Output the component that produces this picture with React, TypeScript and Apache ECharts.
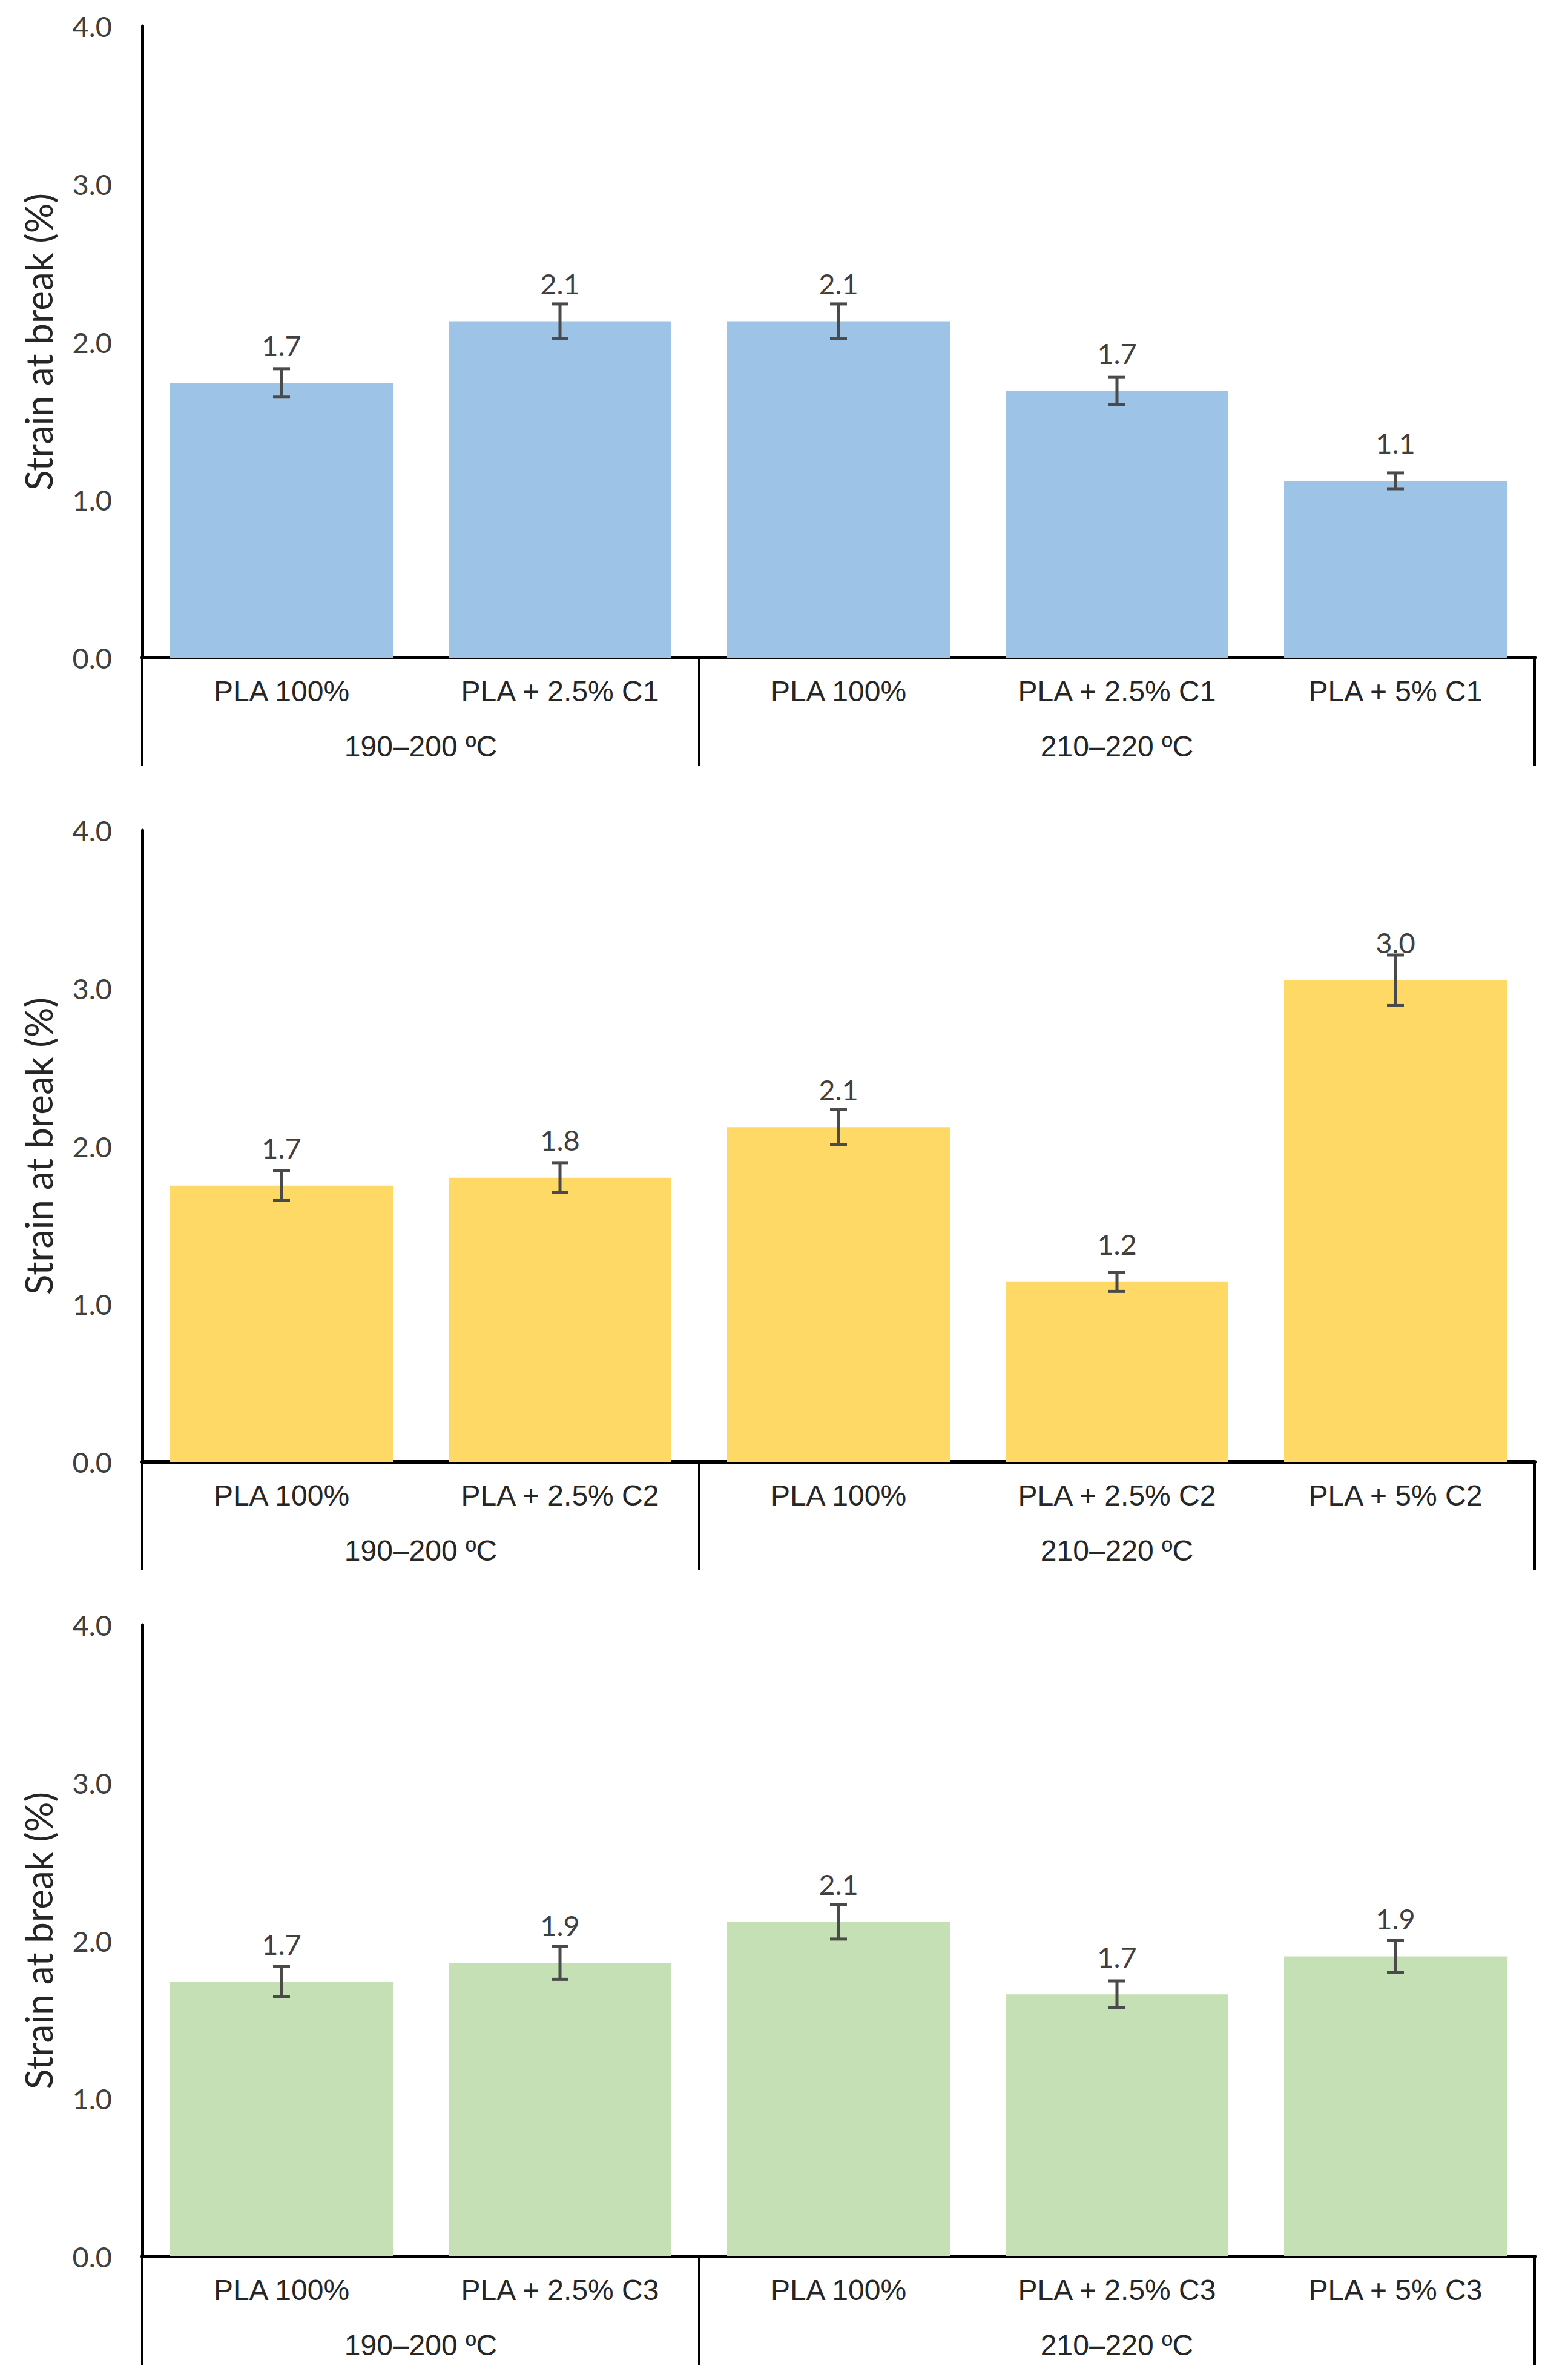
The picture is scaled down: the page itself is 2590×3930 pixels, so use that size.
import React, { useEffect, useRef } from "react";
import * as echarts from "echarts";

// ---- data ----
const groupNames = ["190–200 ºC", "210–220 ºC"];
const groupSizes = [2, 3];

const categoriesC1 = ["PLA 100%", "PLA + 2.5% C1", "PLA 100%", "PLA + 2.5% C1", "PLA + 5% C1"];
const valuesC1 = [1.74, 2.13, 2.13, 1.69, 1.12];
const errorsC1 = [0.09, 0.11, 0.11, 0.085, 0.05];
const labelsC1 = ["1.7", "2.1", "2.1", "1.7", "1.1"];

const categoriesC2 = ["PLA 100%", "PLA + 2.5% C2", "PLA 100%", "PLA + 2.5% C2", "PLA + 5% C2"];
const valuesC2 = [1.75, 1.8, 2.12, 1.14, 3.05];
const errorsC2 = [0.095, 0.095, 0.11, 0.06, 0.16];
const labelsC2 = ["1.7", "1.8", "2.1", "1.2", "3.0"];

const categoriesC3 = ["PLA 100%", "PLA + 2.5% C3", "PLA 100%", "PLA + 2.5% C3", "PLA + 5% C3"];
const valuesC3 = [1.74, 1.86, 2.12, 1.66, 1.9];
const errorsC3 = [0.095, 0.105, 0.11, 0.085, 0.1];
const labelsC3 = ["1.7", "1.9", "2.1", "1.7", "1.9"];

const yMin = 0;
const yMax = 4;
const yStep = 1;
const yTitle = "Strain at break (%)";

const panels = [
  { categories: categoriesC1, values: valuesC1, errors: errorsC1, labels: labelsC1, color: "#9DC3E6" },
  { categories: categoriesC2, values: valuesC2, errors: errorsC2, labels: labelsC2, color: "#FFD966" },
  { categories: categoriesC3, values: valuesC3, errors: errorsC3, labels: labelsC3, color: "#C5E0B4" },
];

// ---- layout ----
const W = 2590;
const H = 3930;
const panelTops = [43, 1371, 2683];
const panelHeight = 1043;
const gridLeft = 235;
const gridRight = 55;
const groupRowHeight = 179;

const fontNum = "Lato, 'Open Sans', sans-serif";
const fontCat = "'Liberation Sans', Arial, sans-serif";

export default function App() {
  const ref = useRef<HTMLDivElement>(null);
  useEffect(() => {
    if (!ref.current) return;
    const chart = echarts.init(ref.current, undefined, { renderer: "svg" });

    // group boundaries and centers derived from group sizes
    const bounds: number[] = [0];
    groupSizes.forEach((s) => bounds.push(bounds[bounds.length - 1] + s));
    const centers = groupNames.map((_, i) => (bounds[i] + bounds[i + 1]) / 2);
    const total = bounds[bounds.length - 1];

    const grids: any[] = [];
    const xAxes: any[] = [];
    const yAxes: any[] = [];
    const series: any[] = [];

    panels.forEach((p, i) => {
      grids.push({ left: gridLeft, right: gridRight, top: panelTops[i], height: panelHeight });
      // level 1 categories
      xAxes.push({
        type: "category",
        gridIndex: i,
        data: p.categories,
        axisLine: { show: true, lineStyle: { color: "#000", width: 6 } },
        axisTick: { show: false },
        axisLabel: {
          interval: 0,
          margin: 31,
          color: "#262626",
          fontFamily: fontCat,
          fontSize: 48,
        },
        splitLine: { show: false },
      });
      // level 2 groups
      xAxes.push({
        type: "value",
        gridIndex: i,
        position: "bottom",
        offset: groupRowHeight,
        min: 0,
        max: total,
        axisLine: { show: false },
        splitLine: { show: false },
        axisTick: {
          show: true,
          inside: true,
          length: groupRowHeight,
          customValues: bounds,
          lineStyle: { color: "#000", width: 4 },
        },
        axisLabel: {
          show: true,
          inside: true,
          margin: 9,
          customValues: centers,
          formatter: (v: number) => {
            const k = centers.findIndex((c) => Math.abs(c - v) < 1e-6);
            return k >= 0 ? groupNames[k] : "";
          },
          color: "#262626",
          fontFamily: fontCat,
          fontSize: 48,
        },
      });
      yAxes.push({
        type: "value",
        gridIndex: i,
        min: yMin,
        max: yMax,
        interval: yStep,
        name: yTitle,
        nameLocation: "middle",
        nameRotate: 90,
        nameGap: 141,
        nameTextStyle: { color: "#262626", fontFamily: fontNum, fontSize: 62 },
        axisLine: { show: true, lineStyle: { color: "#000", width: 5 } },
        axisTick: { show: false },
        splitLine: { show: false },
        axisLabel: {
          margin: 50,
          color: "#404040",
          fontFamily: fontNum,
          fontSize: 47,
          formatter: (v: number) => v.toFixed(1),
        },
      });
      series.push({
        type: "bar",
        xAxisIndex: i * 2,
        yAxisIndex: i,
        data: p.values,
        barWidth: "80%",
        itemStyle: { color: p.color },
        label: {
          show: true,
          position: "top",
          distance: 39,
          color: "#404040",
          fontFamily: fontNum,
          fontSize: 47,
          formatter: (params: any) => p.labels[params.dataIndex],
        },
        z: 2,
      });
      series.push({
        type: "custom",
        xAxisIndex: i * 2,
        yAxisIndex: i,
        data: p.values.map((v, j) => [j, v, p.errors[j]]),
        z: 5,
        renderItem: (_params: any, api: any) => {
          const x = api.value(0);
          const v = api.value(1);
          const e = api.value(2);
          const lo = api.coord([x, v - e]);
          const hi = api.coord([x, v + e]);
          const cap = 14;
          const style = { stroke: "#4a4a4a", lineWidth: 5 };
          return {
            type: "group",
            children: [
              { type: "line", shape: { x1: lo[0], y1: lo[1], x2: hi[0], y2: hi[1] }, style },
              { type: "line", shape: { x1: lo[0] - cap, y1: lo[1], x2: lo[0] + cap, y2: lo[1] }, style },
              { type: "line", shape: { x1: hi[0] - cap, y1: hi[1], x2: hi[0] + cap, y2: hi[1] }, style },
            ],
          };
        },
      });
    });

    chart.setOption({
      animation: false,
      backgroundColor: "#ffffff",
      grid: grids,
      xAxis: xAxes,
      yAxis: yAxes,
      series,
    });
    return () => chart.dispose();
  }, []);

  return (
    <div
      ref={ref}
      style={{ position: "absolute", left: 0, top: 0, width: W, height: H, background: "#fff" }}
    />
  );
}
